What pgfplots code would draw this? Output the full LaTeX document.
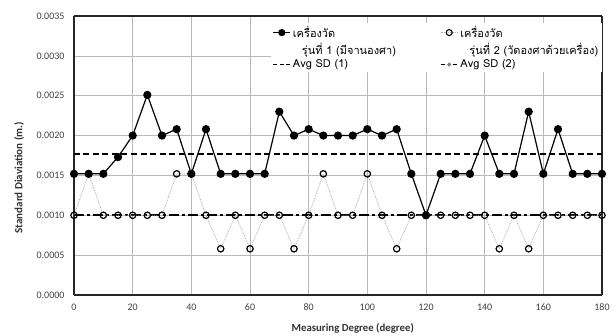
\documentclass[border=0pt]{standalone}
\usepackage{fontspec}
\setmainfont{Carlito}
\newfontfamily\thaifont[Script=Thai]{Loma}
\usepackage{pgfplots}
\pgfplotsset{compat=1.18}
\usepackage{pgfplotstable}
\pgfplotstableread{
x s1 s2
0 0.00152 0.00100
5 0.00152 0.00152
10 0.00152 0.00100
15 0.00173 0.00100
20 0.00200 0.00100
25 0.00251 0.00100
30 0.00200 0.00100
35 0.00208 0.00152
40 0.00152 0.00152
45 0.00208 0.00100
50 0.00152 0.00058
55 0.00152 0.00100
60 0.00152 0.00058
65 0.00152 0.00100
70 0.00230 0.00100
75 0.00200 0.00058
80 0.00208 0.00100
85 0.00200 0.00152
90 0.00200 0.00100
95 0.00200 0.00100
100 0.00208 0.00152
105 0.00200 0.00100
110 0.00208 0.00058
115 0.00152 0.00100
120 0.00100 0.00100
125 0.00152 0.00100
130 0.00152 0.00100
135 0.00152 0.00100
140 0.00200 0.00100
145 0.00152 0.00058
150 0.00152 0.00100
155 0.00230 0.00058
160 0.00152 0.00100
165 0.00208 0.00100
170 0.00152 0.00100
175 0.00152 0.00100
180 0.00152 0.00100
}\datatable
\definecolor{gridgray}{RGB}{185,185,185}
\definecolor{ticktext}{RGB}{64,64,64}
\begin{document}
\begin{tikzpicture}
\begin{axis}[name=ax,
  scale only axis,
  width=528pt, height=279pt,
  xmin=0, xmax=180, ymin=0, ymax=0.0035,
  xtick={0,20,...,180},
  ytick={0,0.0005,0.001,0.0015,0.002,0.0025,0.003,0.0035},
  yticklabel style={xshift=-6pt, /pgf/number format/fixed, /pgf/number format/fixed zerofill, /pgf/number format/precision=4, /pgf/number format/assume math mode=true},
  xticklabel style={yshift=-5pt, /pgf/number format/assume math mode=true},
  scaled y ticks=false,
  tick label style={font=\fontsize{10}{12}\selectfont, text=ticktext},
  tick style={draw=none},
  grid=major,
  major grid style={draw=gridgray, line width=0.6pt},
  separate axis lines,
  axis line style={line width=1.4pt, black!85},
  xlabel={\textbf{Measuring Degree (degree)}},
  ylabel={\textbf{Standard Diaviation (m.)}},
  xlabel style={font=\fontsize{10.8}{12}\selectfont, text=black!80, at={(axis description cs:0.528,0)}, anchor=center, yshift=-33pt},
  ylabel style={font=\fontsize{11}{13}\selectfont, text=black!80, at={(axis description cs:-0.104,0.42)}, anchor=center},
  legend columns=2,
  legend cell align=left,
  legend style={at={(0.372,0.975)}, anchor=north west, draw=none, fill=white,
    font=\thaifont\fontsize{11}{13}\selectfont,
    /tikz/every even column/.append style={column sep=42pt},
    inner xsep=2pt, inner ysep=1pt, row sep=0pt},
]
% averages
\addplot[forget plot, black, line width=1.6pt, dash pattern=on 6pt off 3.5pt] coordinates {(0,0.00177) (180,0.00177)};
\addplot[forget plot, black, line width=1.8pt, dash pattern=on 10pt off 3pt on 3pt off 3pt] coordinates {(0,0.00100) (180,0.00100)};
% series 2
\addplot[forget plot, gray!65, line width=0.8pt, densely dotted, mark=o, mark size=3.2pt,
  mark options={solid, draw=black, fill=white, line width=1.2pt}] table[x=x,y=s2] {\datatable};
% series 1
\addplot[forget plot, black, line width=1.2pt, mark=*, mark size=3.5pt, mark options={solid, fill=black}] table[x=x,y=s1] {\datatable};
\addlegendimage{black, line width=1.2pt, mark=*, mark size=3pt, mark options={solid, fill=black}}
\addlegendentry{เครื่องวัด}
\addlegendimage{gray!65, line width=0.8pt, densely dotted, mark=o, mark size=3pt, mark options={solid, draw=black, fill=white, line width=1.1pt}}
\addlegendentry{เครื่องวัด}
\addlegendimage{empty legend}
\addlegendentry{\hspace{9pt}รุ่นที่ 1 (มีจานองศา)}
\addlegendimage{empty legend}
\addlegendentry{\hspace{9pt}รุ่นที่ 2 (วัดองศาด้วยเครื่อง)}
\addlegendimage{black, line width=1.3pt, dash pattern=on 4pt off 2.5pt}
\addlegendentry{Avg SD (1)}
\addlegendimage{black, line width=1.3pt, dash pattern=on 4pt off 3pt on 2pt off 3pt, mark=*, mark size=1.3pt, mark options={solid, gray, fill=gray}}
\addlegendentry{Avg SD (2)}
\end{axis}
\pgfresetboundingbox
\path (ax.south west) ++(-74pt,-41pt) coordinate (bl);
\path (ax.north east) ++(14pt,16pt) coordinate (tr);
\path (bl) rectangle (tr);
\end{tikzpicture}
\end{document}
